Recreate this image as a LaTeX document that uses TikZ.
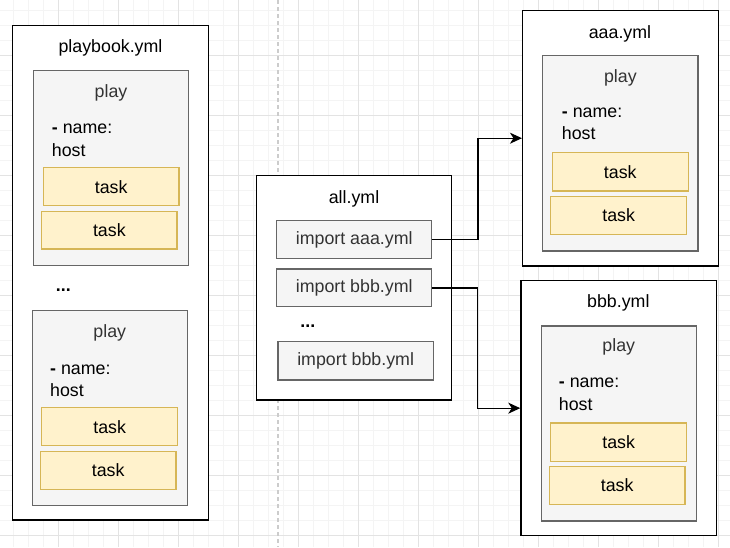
\documentclass[tikz,border=0pt]{standalone}
\usepackage{fontspec}
\setmainfont{Liberation Sans}
\usetikzlibrary{arrows.meta}
\definecolor{playfill}{HTML}{F5F5F5}
\definecolor{playline}{HTML}{666666}
\definecolor{taskfill}{HTML}{FFF2CC}
\definecolor{taskline}{HTML}{D6B656}
\definecolor{txtgray}{HTML}{333333}
\definecolor{gridmin}{HTML}{F4F4F4}
\definecolor{gridmaj}{HTML}{E3E3E3}
\definecolor{sepline}{HTML}{CCCCCC}
\begin{document}
\begin{tikzpicture}[x=1pt,y=-1pt,
  font=\fontsize{17.8}{22}\selectfont,
  filebox/.style={draw=black,fill=white,line width=1.5pt,inner sep=0pt},
  playbox/.style={draw=playline,fill=playfill,line width=1.2pt,inner sep=0pt},
  taskbox/.style={draw=taskline,fill=taskfill,line width=1.2pt,inner sep=0pt,minimum height=38pt,minimum width=136pt},
  impbox/.style={draw=playline,fill=playfill,line width=1.3pt,inner sep=0pt,minimum width=155pt,minimum height=37.7pt,text=txtgray},
  title/.style={anchor=base,inner sep=0pt,text=black},
  playlbl/.style={anchor=base,inner sep=0pt,text=txtgray},
  namelbl/.style={anchor=base west,inner sep=0pt,text=black},
  dotslbl/.style={anchor=base,inner sep=0pt,font=\fontsize{17.8}{22}\selectfont\bfseries},
  conn/.style={draw=black,line width=1.3pt,-{Stealth[length=12pt,width=11pt,inset=3.5pt]}},
  gridminor/.style={draw=gridmin,line width=0.8pt},
  gridmajor/.style={draw=gridmaj,line width=0.8pt}
]
\useasboundingbox (0,0) rectangle (730,547);
\fill[white] (0,0) rectangle (730,547);
% background grid
\foreach \i in {0,...,49} {\draw[gridminor] ({-1.3+15*\i},0) -- ({-1.3+15*\i},547);}
\foreach \i in {1,...,37} {\draw[gridminor] (0,{-5+15*\i}) -- (730,{-5+15*\i});}
\foreach \i in {1,...,12} {\draw[gridmajor] ({-1.3+60*\i},0) -- ({-1.3+60*\i},547);}
\foreach \i in {1,...,9} {\draw[gridmajor] (0,{-5+60*\i}) -- (730,{-5+60*\i});}
% dashed separator
\coordinate (septop) at (278,0);
\coordinate (sepbot) at (278,547);
\draw[sepline,line width=1.3pt,dash pattern=on 4pt off 3pt] (septop) -- (sepbot);

% ---- playbook.yml ----
\node[filebox,minimum width=195.6pt,minimum height=494.3pt] (pb) at (110.5,272.85) {};
\node[title] (pbt) at (110.5,52) {playbook.yml};
\node[playbox,minimum width=154.6pt,minimum height=195pt] (p1) at (111,168.2) {};
\node[playlbl] (p1t) at (111,97.5) {play};
\node[namelbl] (p1n) at (51.7,133.3) {\textbf{-} name:};
\node[namelbl] (p1h) at (51.7,156) {host};
\node[taskbox,minimum width=135.7pt] (t1) at (111.15,186.7) {task};
\node[taskbox,minimum width=135.3pt,minimum height=37.3pt] (t2) at (109.35,230.35) {task};
\node[dotslbl] (pbd) at (63.3,291.5) {...};
\node[playbox,minimum width=155pt,minimum height=195pt] (p2) at (109.8,408.2) {};
\node[playlbl] (p2t) at (109.8,337.7) {play};
\node[namelbl] (p2n) at (50,374) {\textbf{-} name:};
\node[namelbl] (p2h) at (50,396) {host};
\node[taskbox] (t3) at (109.7,426.7) {task};
\node[taskbox,minimum width=135.7pt,minimum height=37.6pt] (t4) at (108.15,470.5) {task};

% ---- all.yml ----
\node[filebox,minimum width=195pt,minimum height=224.7pt] (all) at (354.2,287.65) {};
\node[title] (allt) at (354,203.4) {all.yml};
\node[impbox] (imp1) at (354.2,239.5) {import aaa.yml};
\node[impbox] (imp2) at (354.2,287.85) {import bbb.yml};
\node[dotslbl] (alld) at (307.8,327.7) {...};
\node[impbox,minimum width=155.3pt,minimum height=38.3pt] (imp3) at (355.65,360.85) {import bbb.yml};

% ---- aaa.yml ----
\node[filebox,minimum width=195.6pt,minimum height=255.4pt] (aaa) at (620.5,138.2) {};
\node[title] (aaat) at (620,38.9) {aaa.yml};
\node[playbox,minimum width=155.3pt,minimum height=195.4pt] (pa) at (620.35,153.2) {};
\node[playlbl] (pat) at (620.35,82.5) {play};
\node[namelbl] (pan) at (561.7,117.6) {\textbf{-} name:};
\node[namelbl] (pah) at (561.7,139.6) {host};
\node[taskbox,minimum height=38.4pt] (ta1) at (620.3,171.7) {task};
\node[taskbox,minimum height=38.1pt] (ta2) at (618.7,215.45) {task};

% ---- bbb.yml ----
\node[filebox,minimum width=195.7pt,minimum height=254.9pt] (bbb) at (618.85,408.15) {};
\node[title] (bbbt) at (618.3,307.7) {bbb.yml};
\node[playbox,minimum width=155pt,minimum height=195pt] (pbb) at (618.8,423.4) {};
\node[playlbl] (pbbt) at (618.8,351.4) {play};
\node[namelbl] (pbn) at (558.7,387.7) {\textbf{-} name:};
\node[namelbl] (pbh) at (558.7,410) {host};
\node[taskbox,minimum height=38.4pt] (tb1) at (618.7,442.1) {task};
\node[taskbox,minimum width=135.7pt] (tb2) at (617.2,485.5) {task};

% ---- connectors ----
\draw[conn] (imp1.east) -- ++(45.6,0) |- (aaa.west);
\draw[conn] (imp2.east) -- ++(45,0) |- (bbb.west);
\end{tikzpicture}
\end{document}
